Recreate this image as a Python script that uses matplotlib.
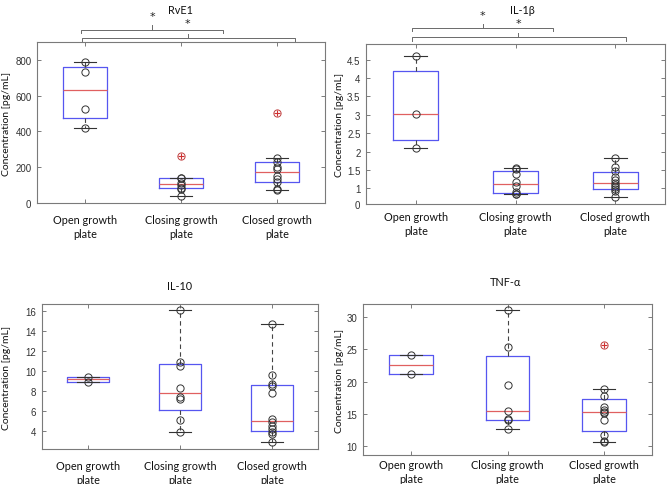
import numpy as np
import matplotlib
matplotlib.use("Agg")
import matplotlib.pyplot as plt
from matplotlib.transforms import ScaledTranslation, blended_transform_factory
from matplotlib.lines import Line2D

# ---------------- data ----------------
groups = ["Open growth\nplate", "Closing growth\nplate", "Closed growth\nplate"]

rve1_open = [417, 528, 733, 789]
rve1_closing = [41, 80, 84, 100, 110, 138, 142, 260]
rve1_closed = [73, 78, 117, 134, 152, 190, 200, 227, 249, 502]

il1b_open = [2.09, 3.03, 4.59]
il1b_closing = [0.83, 0.85, 0.89, 1.05, 1.17, 1.39, 1.53, 1.55]
il1b_closed = [0.76, 0.92, 0.97, 1.03, 1.10, 1.15, 1.22, 1.30, 1.48, 1.58, 1.81]

il10_open = [8.97, 9.47]
il10_closing = [3.97, 5.15, 7.2, 7.4, 8.3, 10.5, 10.9, 16.1]
il10_closed = [2.9, 3.73, 3.9, 4.25, 4.5, 4.9, 5.25, 7.85, 8.5, 8.7, 9.6, 14.7]

tnf_open = [21.2, 24.05]
tnf_closing = [12.68, 14.0, 14.3, 15.5, 19.5, 25.4, 31.0]
tnf_closed = [10.72, 10.9, 11.8, 14.12, 15.15, 15.3, 15.6, 16.03, 17.73, 18.87, 25.6]

titles = ["RvE1", "IL-1\u03b2", "IL-10", "TNF-\u03b1"]
ylabel = "Concentration [pg/mL]"

rve1_ticks = [0, 200, 400, 600, 800]
il1b_ticks = [0.58, 1, 1.5, 2, 2.5, 3, 3.5, 4, 4.5]
il1b_ticklabels = ["0", "1", "1.5", "2", "2.5", "3", "3.5", "4", "4.5"]
il10_ticks = [4, 6, 8, 10, 12, 14, 16]
tnf_ticks = [10, 15, 20, 25, 30]

# ---------------- helpers ----------------
W, H = 669, 485
fig = plt.figure(figsize=(W / 100, H / 100), dpi=100)

LABEL_FONT = ["Lato", "DejaVu Sans"]
TICK_FONT = ["Liberation Sans", "DejaVu Sans"]


def mprctile(x, p):
    x = np.sort(np.asarray(x, float))
    n = len(x)
    pos = (np.arange(1, n + 1) - 0.5) / n
    return float(np.interp(p / 100.0, pos, x))


def mstats(x):
    x = np.sort(np.asarray(x, float))
    q1, med, q3 = mprctile(x, 25), mprctile(x, 50), mprctile(x, 75)
    iqr = q3 - q1
    hi_f, lo_f = q3 + 1.5 * iqr, q1 - 1.5 * iqr
    inside = x[(x >= lo_f) & (x <= hi_f)]
    fl = x[(x < lo_f) | (x > hi_f)]
    return dict(med=med, q1=q1, q3=q3, whislo=inside.min(), whishi=inside.max(),
                fliers=fl), fl


def make_ax(px_left, px_right, px_top, px_bottom):
    return fig.add_axes([px_left / W, 1 - px_bottom / H,
                         (px_right - px_left) / W, (px_bottom - px_top) / H])


def draw_panel(ax, data, title, ylim, ticks, ticklabels, label_dx, title_px, ylabel_x, xpad):
    stats, flist = [], []
    for d in data:
        s, fl = mstats(d)
        stats.append(s)
        flist.append(fl)
    ax.bxp(stats, positions=[1, 2, 3], widths=0.45, capwidths=0.23,
           boxprops=dict(color="#5656f0", lw=0.9),
           medianprops=dict(color="#e06060", lw=0.9),
           whiskerprops=dict(color="#444444", lw=0.8, ls=(0, (4, 3))),
           capprops=dict(color="#333333", lw=0.8),
           flierprops=dict(marker="+", markeredgecolor="#d03030", markersize=5,
                           markeredgewidth=0.8, linestyle="none"),
           manage_ticks=False)
    for i, d in enumerate(data):
        d = np.asarray(d, float)
        fl = flist[i]
        is_out = np.isin(d, fl)
        ax.plot(np.full((~is_out).sum(), i + 1), d[~is_out], "o", mfc="none",
                mec="#333333", ms=5.2, mew=0.7, zorder=5)
        if is_out.any():
            ax.plot(np.full(is_out.sum(), i + 1), d[is_out], "o", mfc="none",
                    mec="#c04040", ms=5.2, mew=0.7, zorder=5)
    ax.set_xlim(0.5, 3.5)
    ax.set_ylim(*ylim)
    ax.set_yticks(ticks)
    if ticklabels is not None:
        ax.set_yticklabels(ticklabels)
    ax.set_xticks([1, 2, 3])
    ax.set_xticklabels(groups, fontsize=7.8, family=LABEL_FONT, color="#111111",
                       linespacing=1.3)
    for lab, dx in zip(ax.get_xticklabels(), label_dx):
        lab.set_transform(lab.get_transform() + ScaledTranslation(dx / 100, 0, fig.dpi_scale_trans))
    for lab in ax.get_yticklabels():
        lab.set_family(TICK_FONT)
        lab.set_fontsize(7)
        lab.set_color("#333333")
    ax.tick_params(axis="both", direction="in", length=3, width=0.6, color="#666666",
                   top=True, right=True)
    ax.tick_params(axis="x", pad=xpad)
    ax.tick_params(axis="y", pad=4)
    for sp in ax.spines.values():
        sp.set_color("#7a7a7a")
        sp.set_linewidth(0.8)
    fig.text(title_px[0] / W, 1 - title_px[1] / H, title, ha="center", va="center",
             fontsize=7.8, family=LABEL_FONT, color="#111111")
    pos = ax.get_position()
    fig.text(ylabel_x / W, pos.y0 + pos.height / 2, ylabel, rotation=90, ha="center",
             va="center", fontsize=7.5, family=LABEL_FONT, color="#111111")


def brackets(ax, specs):
    tr = blended_transform_factory(ax.transData, ax.transAxes)
    for x0, x1, xc, yb, yend, ytick, ystar in specs:
        kw = dict(transform=tr, color="#6a6a6a", lw=0.7, clip_on=False)
        ax.add_line(Line2D([x0, x0, x1, x1], [yend, yb, yb, yend], **kw))
        ax.add_line(Line2D([xc, xc], [yb, ytick], **kw))
        ax.text(xc, ystar, "*", transform=tr, ha="center", va="center", fontsize=8,
                color="#222222")


# ---------------- panels ----------------
ax1 = make_ax(37, 325, 43, 204)
draw_panel(ax1, [rve1_open, rve1_closing, rve1_closed], titles[0], (0, 900), rve1_ticks,
           None, [-3, -7, -9], (180, 11), 7, 8)
brackets(ax1, [(0.96, 2.44, 1.70, 1.076, 1.058, 1.104, 1.160),
               (0.97, 3.19, 2.07, 1.023, 1.004, 1.050, 1.117)])

ax2 = make_ax(366, 665, 45, 205)
draw_panel(ax2, [il1b_open, il1b_closing, il1b_closed], titles[1], (0.57, 4.93), il1b_ticks,
           il1b_ticklabels, [7, 0, -6], (522, 11), 339, 5)
brackets(ax2, [(0.96, 2.38, 1.67, 1.10, 1.081, 1.125, 1.180),
               (0.96, 3.11, 2.03, 1.044, 1.019, 1.069, 1.130)])

ax3 = make_ax(42, 318, 305, 450)
draw_panel(ax3, [il10_open, il10_closing, il10_closed], titles[2], (2.23, 16.73), il10_ticks,
           None, [0, 3, 3], (180, 287), 7, 8)

ax4 = make_ax(363, 652, 305, 456)
draw_panel(ax4, [tnf_open, tnf_closing, tnf_closed], titles[3], (8.66, 32.0), tnf_ticks,
           None, [6, 4, 0], (505, 283), 339, 3)

fig.savefig("out.png", dpi=100)
